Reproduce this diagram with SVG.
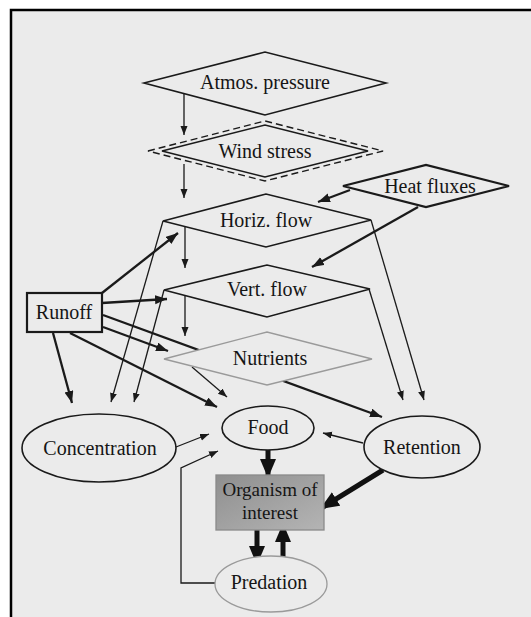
<svg xmlns="http://www.w3.org/2000/svg" width="531" height="617" viewBox="0 0 531 617">
<style>
.t{font-family:"Liberation Serif","Times New Roman",serif;font-size:20px;fill:#151515;text-anchor:middle}
.n{fill:#ebebeb;stroke:#1a1a1a;stroke-width:1.6}
.thin{fill:none;stroke:#1a1a1a;stroke-width:1.3;marker-end:url(#ah1)}
.med{fill:none;stroke:#1a1a1a;stroke-width:2.3;marker-end:url(#ah2)}
.heavy{fill:none;stroke:#111;stroke-width:5;marker-end:url(#ah3)}
</style>
<defs>
<marker id="ah1" markerUnits="userSpaceOnUse" markerWidth="10" markerHeight="8" refX="9" refY="3.5" orient="auto"><path d="M0,0 L9,3.5 L0,7 z" fill="#1a1a1a"/></marker>
<marker id="ah2" markerUnits="userSpaceOnUse" markerWidth="13" markerHeight="10" refX="12" refY="4.5" orient="auto"><path d="M0,0 L12,4.5 L0,9 z" fill="#1a1a1a"/></marker>
<marker id="ah3" markerUnits="userSpaceOnUse" markerWidth="20" markerHeight="17" refX="19" refY="8" orient="auto"><path d="M0,0 L19,8 L0,16 z" fill="#111"/></marker>
<linearGradient id="og" x1="0" y1="0" x2="1" y2="1"><stop offset="0" stop-color="#8f8f8f"/><stop offset="1" stop-color="#b4b4b4"/></linearGradient>
</defs>
<rect x="0" y="0" width="531" height="617" fill="#ffffff"/>
<rect x="11" y="10" width="520" height="607" fill="#ebebeb"/>
<path d="M11,617 L11,10 L531,10" fill="none" stroke="#000" stroke-width="2.5"/>

<g id="connectors">
<line class="thin" x1="184" y1="94" x2="184" y2="135"/>
<line class="thin" x1="184" y1="164" x2="184" y2="198"/>
<line class="thin" x1="185" y1="227" x2="185" y2="268"/>
<line class="thin" x1="185" y1="296" x2="185" y2="336"/>
<line class="med" x1="350" y1="190" x2="318" y2="202"/>
<line class="med" x1="418" y1="207" x2="312" y2="267"/>
<line class="thin" x1="371" y1="220" x2="424" y2="400"/>
<line class="thin" x1="369" y1="289" x2="403" y2="400"/>
<line class="thin" x1="163" y1="221" x2="111" y2="402"/>
<line class="thin" x1="164" y1="290" x2="134" y2="402"/>
<line class="med" x1="102" y1="293" x2="178" y2="233"/>
<line class="med" x1="102" y1="303" x2="167" y2="299"/>
<line class="med" x1="103" y1="315" x2="382" y2="417"/>
<line class="med" x1="103" y1="327" x2="168" y2="351"/>
<line class="med" x1="53" y1="333" x2="72" y2="403"/>
<line class="med" x1="70" y1="333" x2="217" y2="407"/>
<line class="thin" x1="192" y1="367" x2="227" y2="397"/>
<line class="thin" x1="176" y1="447" x2="209" y2="434"/>
<line class="thin" x1="363" y1="443" x2="323" y2="433"/>
<polyline class="thin" points="215,583 181,583 181,468 218,451"/>
<line class="heavy" x1="268" y1="450" x2="268" y2="478"/>
<line class="heavy" x1="383" y1="470" x2="320" y2="509"/>
<line class="heavy" x1="257" y1="530" x2="257" y2="565"/>
<line class="heavy" x1="283" y1="563" x2="283" y2="523"/>
</g>

<g id="atmos"><polygon class="n" points="144,83 265,52 386,83 265,115"/><text class="t" x="265" y="89">Atmos. pressure</text></g>
<g id="wind"><polygon points="148,151 265,121 383,151 265,181" fill="#ebebeb" stroke="#1a1a1a" stroke-width="1.4" stroke-dasharray="7,4"/><polygon points="162,151 265,125 368,151 265,177" fill="none" stroke="#1a1a1a" stroke-width="1.6"/><text class="t" x="265" y="158">Wind stress</text></g>
<g id="heat"><polygon class="n" points="343,186 426,165 509,186 426,207" style="stroke-width:2.2"/><text class="t" x="430" y="193">Heat fluxes</text></g>
<g id="horiz"><polygon class="n" points="163,221 266,194 371,220 266,247"/><text class="t" x="266" y="227">Horiz. flow</text></g>
<g id="vert"><polygon class="n" points="164,290 267,265 370,289 267,317"/><text class="t" x="267" y="296">Vert. flow</text></g>
<g id="nutrients"><polygon class="n" points="164,359 267,332 372,359 267,385" style="stroke:#9a9a9a;stroke-width:1.3"/><text class="t" x="270" y="365">Nutrients</text></g>
<g id="runoff"><rect x="27" y="293" width="75" height="39" class="n" style="stroke-width:2.2"/><text class="t" x="64" y="319">Runoff</text></g>
<g id="concentration"><ellipse class="n" cx="99" cy="448" rx="77" ry="34"/><text class="t" x="100" y="455">Concentration</text></g>
<g id="food"><ellipse class="n" cx="268" cy="428" rx="46" ry="22"/><text class="t" x="268" y="434">Food</text></g>
<g id="retention"><ellipse class="n" cx="422" cy="447" rx="58" ry="31"/><text class="t" x="422" y="454">Retention</text></g>
<g id="organism"><rect x="216" y="475" width="108" height="55" fill="url(#og)" stroke="#8a8a8a" stroke-width="1.3"/><text class="t" x="270" y="496" style="font-size:19px">Organism of</text><text class="t" x="270" y="519" style="font-size:19px">interest</text></g>
<g id="predation"><ellipse cx="271" cy="584" rx="56" ry="28" fill="#ebebeb" stroke="#9a9a9a" stroke-width="1.3"/><text class="t" x="269" y="589">Predation</text></g>
</svg>
